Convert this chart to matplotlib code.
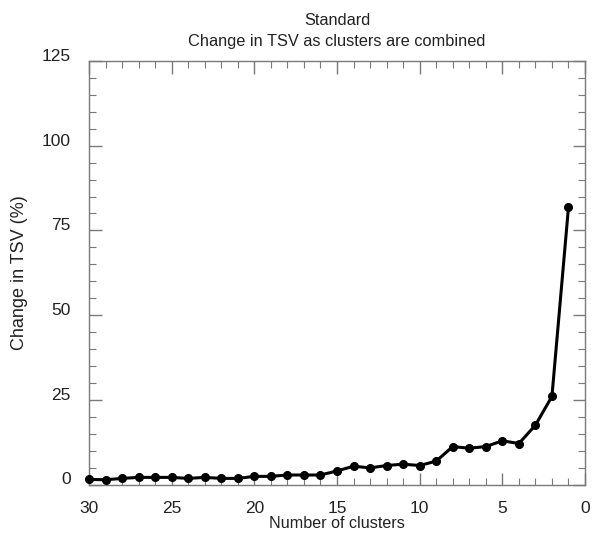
import matplotlib

matplotlib.use("Agg")
import matplotlib.pyplot as plt
from matplotlib.ticker import MultipleLocator
from matplotlib.transforms import ScaledTranslation

plt.rcParams["font.family"] = ["Liberation Sans", "DejaVu Sans"]

# Number of clusters and the change in total sum of variance (%)
clusters = list(range(30, 0, -1))
tsv_change = [1.5, 1.4, 1.8, 2.1, 2.1, 2.1, 1.8, 2.1, 1.8, 1.8,
              2.4, 2.4, 2.8, 2.8, 2.8, 4.0, 5.4, 4.9, 5.6, 6.0,
              5.6, 6.9, 11.2, 10.7, 11.2, 12.9, 12.1, 17.5, 26.0, 81.8]

fig = plt.figure(figsize=(5.93, 5.41), dpi=100)
# axes box: x 89..585 px, y 61..484.5 px
ax = fig.add_axes([89 / 593, 1 - 484.5 / 541, 496 / 593, 423.5 / 541])

ax.plot(clusters, tsv_change, color="black", linewidth=2.2,
        marker="o", markersize=5.5, clip_on=False, zorder=3)

ax.set_xlim(30, 0)
ax.set_ylim(0, 125)
ax.xaxis.set_major_locator(MultipleLocator(5))
ax.xaxis.set_minor_locator(MultipleLocator(1))
ax.yaxis.set_major_locator(MultipleLocator(25))
ax.yaxis.set_minor_locator(MultipleLocator(5))

grey = "#7a7a7a"
for s in ax.spines.values():
    s.set_color(grey)
    s.set_linewidth(1.0)
ax.tick_params(which="both", direction="in", top=True, right=True,
               color=grey, labelsize=12.5, labelcolor="#222222")
ax.tick_params(axis="x", pad=12)
ax.tick_params(axis="y", pad=13)
ax.tick_params(which="major", length=9, width=1.0)
ax.tick_params(which="minor", length=5, width=0.8)

# y tick labels sit a little above their ticks
shift = ScaledTranslation(0, 6 / 100, fig.dpi_scale_trans)
for lab in ax.get_yticklabels():
    lab.set_transform(lab.get_transform() + shift)

ax.set_xlabel("Number of clusters", fontsize=11.6, labelpad=0, color="#222222")
ax.set_ylabel("Change in TSV (%)", fontsize=13, labelpad=10, color="#222222")
ax.set_title("Standard\nChange in TSV as clusters are combined",
             fontsize=11.8, pad=11, linespacing=1.45, color="#222222")

fig.savefig("out.png", dpi=100)
